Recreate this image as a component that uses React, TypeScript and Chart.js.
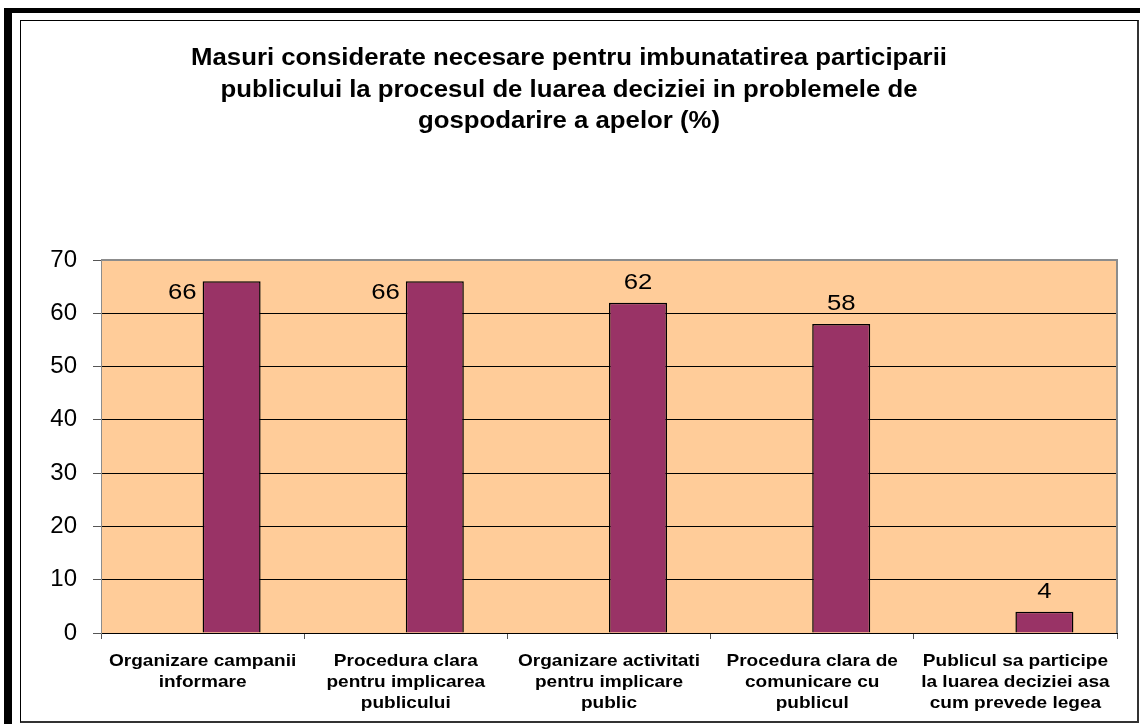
import React, { useEffect, useRef } from "react";
import { Chart, registerables } from "chart.js";

Chart.register(...registerables);

const titleLines = [
  "Masuri considerate necesare pentru imbunatatirea participarii",
  "publicului la procesul de luarea deciziei in problemele de",
  "gospodarire a apelor (%)",
];

const categories: string[][] = [
  ["Organizare campanii", "informare"],
  ["Procedura clara", "pentru implicarea", "publicului"],
  ["Organizare activitati", "pentru implicare", "public"],
  ["Procedura clara de", "comunicare cu", "publicul"],
  ["Publicul sa participe", "la luarea deciziei asa", "cum prevede legea"],
];

const values = [66, 66, 62, 58, 4];
const placeholder = [null, null, null, null, null];

const yMin = 0;
const yMax = 70;
const yStep = 10;

const FONT = 'Arial, "Liberation Sans", sans-serif';

function drawStretched(
  ctx: CanvasRenderingContext2D,
  text: string,
  x: number,
  y: number,
  align: CanvasTextAlign,
  sx: number,
  font: string
) {
  ctx.save();
  ctx.translate(x, y);
  ctx.scale(sx, 1);
  ctx.font = font;
  ctx.textAlign = align;
  ctx.textBaseline = "alphabetic";
  ctx.fillStyle = "#000";
  ctx.fillText(text, 0, 0);
  ctx.restore();
}

const customPlugin = {
  id: "custom",
  beforeDraw(chart: any) {
    const { ctx, chartArea } = chart;
    ctx.save();
    ctx.fillStyle = "#FFCC99";
    ctx.fillRect(
      chartArea.left,
      chartArea.top,
      chartArea.right - chartArea.left,
      chartArea.bottom - chartArea.top
    );
    ctx.restore();
  },
  afterDraw(chart: any) {
    const { ctx, chartArea, scales } = chart;
    ctx.save();
    ctx.strokeStyle = "#8c8c8c";
    ctx.lineWidth = 2;
    ctx.beginPath();
    ctx.moveTo(chartArea.left, chartArea.top);
    ctx.lineTo(chartArea.right, chartArea.top);
    ctx.lineTo(chartArea.right, chartArea.bottom);
    ctx.stroke();
    ctx.restore();

    const titleFont = `bold 23px ${FONT}`;
    const cx = 569;
    titleLines.forEach((line, i) => {
      drawStretched(ctx, line, cx, 65 + i * 31.5, "center", 1.12, titleFont);
    });

    const catFont = `bold 17px ${FONT}`;
    categories.forEach((lines, i) => {
      const x = scales.x.getPixelForValue(i);
      lines.forEach((ln, j) => {
        drawStretched(ctx, ln, x, chartArea.bottom + 33 + j * 21, "center", 1.12, catFont);
      });
    });

    const meta = chart.getDatasetMeta(1);
    const lblFont = `22px ${FONT}`;
    meta.data.forEach((bar: any, i: number) => {
      const v = values[i];
      const top = bar.y;
      const left = bar.x - bar.width / 2;
      const txt = String(v);
      if (top - 31 < chartArea.top) {
        drawStretched(ctx, txt, left - 6, top + 18, "right", 1.17, lblFont);
      } else {
        drawStretched(ctx, txt, bar.x, top - 14, "center", 1.17, lblFont);
      }
    });
  },
};

export default function App() {
  const ref = useRef<HTMLCanvasElement | null>(null);
  useEffect(() => {
    if (!ref.current) return;
    const chart = new Chart(ref.current, {
      type: "bar",
      data: {
        labels: categories.map((c) => c.join(" ")),
        datasets: [
          {
            data: placeholder as any,
            backgroundColor: "rgba(0,0,0,0)",
          },
          {
            data: values,
            backgroundColor: "#993366",
            borderColor: "#000000",
            borderWidth: 1.5,
          },
        ],
      },
      options: {
        responsive: false,
        animation: false,
        devicePixelRatio: 1,
        layout: { padding: { top: 260, right: 23, left: 0, bottom: 0 } },
        datasets: {
          bar: { categoryPercentage: 0.571, barPercentage: 1 },
        },
        plugins: {
          legend: { display: false },
          title: { display: false },
          tooltip: { enabled: false },
        },
        scales: {
          x: {
            afterFit: (s: any) => {
              s.height = 91;
            },
            grid: {
              offset: true,
              drawOnChartArea: false,
              drawTicks: true,
              tickLength: 6,
              tickColor: "#555",
            },
            border: { display: true, color: "#000", width: 1 },
            ticks: { display: false },
          },
          y: {
            min: yMin,
            max: yMax,
            afterFit: (s: any) => {
              s.width = 101;
            },
            grid: {
              color: (c: any) => (c.tick && c.tick.value === yMax ? "rgba(0,0,0,0)" : "#000"),
              lineWidth: 1,
              drawTicks: true,
              tickLength: 8,
              tickColor: "#555",
            },
            border: { display: true, color: "#8c8c8c", width: 1 },
            ticks: {
              stepSize: yStep,
              padding: 16,
              color: "#000",
              font: { family: FONT, size: 24 },
            },
          },
        },
      },
      plugins: [customPlugin],
    });
    return () => chart.destroy();
  }, []);

  return (
    <div
      style={{
        position: "absolute",
        left: 0,
        top: 0,
        width: 1140,
        height: 724,
        background: "#fff",
        overflow: "hidden",
      }}
    >
      <div style={{ position: "absolute", left: 4, top: 8, width: 8, height: 716, background: "#000" }} />
      <div style={{ position: "absolute", left: 4, top: 8, width: 1136, height: 5, background: "#000" }} />
      <div
        style={{
          position: "absolute",
          left: 20,
          top: 20,
          width: 1116,
          height: 700,
          borderLeft: "1px solid #000",
          borderTop: "1px solid #000",
          borderRight: "2px solid #333",
          borderBottom: "2px solid #333",
        }}
      />
      <canvas
        ref={ref}
        width={1140}
        height={724}
        style={{ position: "absolute", left: 0, top: 0, width: 1140, height: 724 }}
      />
    </div>
  );
}
